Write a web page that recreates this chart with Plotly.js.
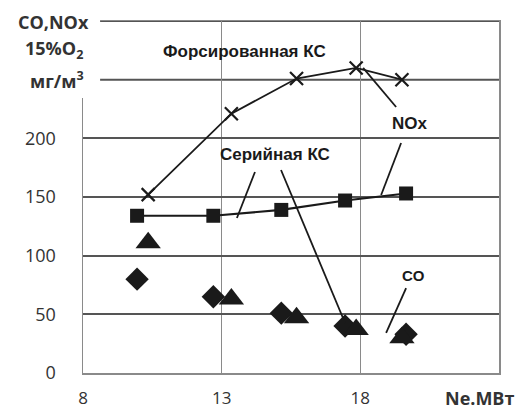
<!DOCTYPE html>
<html>
<head>
<meta charset="utf-8">
<script src="https://cdn.plot.ly/plotly-3.0.1.min.js"></script>
<style>html,body{margin:0;padding:0;background:#fff}#chart{width:526px;height:412px}</style>
</head>
<body>
<div id="chart"></div>
<script>
// Data
const xSerial = [9.95, 12.7, 15.15, 17.45, 19.65];
const noxSerial = [134, 134, 139, 147, 153];
const coSerial = [80, 65, 51, 40, 33];
const xForced = [10.35, 13.35, 15.7, 17.85, 19.5];
const noxForced = [152, 221, 251, 260, 250];
const coForced = [111, 63, 47, 37, 30];
const xTickVals = [8, 13, 18];
const xTickText = ['8', '13', '18'];
const yTickVals = [0, 50, 100, 150, 200];
const yTickText = ['0', '50', '100', '150', '200'];
const yUpperGrid = [250, 300];

const ink = '#1a1a1a';
const traces = [
  {x: xForced, y: noxForced, mode: 'lines+markers', name: 'NOx форсированная',
   line: {color: ink, width: 1.8},
   marker: {symbol: 'x-thin', size: 13, line: {color: ink, width: 2.2}, color: ink}},
  {x: xSerial, y: noxSerial, mode: 'lines+markers', name: 'NOx серийная',
   line: {color: ink, width: 2.2},
   marker: {symbol: 'square', size: 14, color: ink}},
  {x: xSerial, y: coSerial, mode: 'markers', name: 'CO серийная',
   marker: {symbol: 'diamond', size: 18, color: ink}},
  {x: xForced, y: coForced, mode: 'markers', name: 'CO форсированная',
   marker: {symbol: 'triangle-up', size: 22, color: ink}}
];

const lineShape = (x0, y0, x1, y1) => ({type: 'line', xref: 'x', yref: 'y', x0, y0, x1, y1,
  line: {color: ink, width: 1.8}});

const boldFont = {family: 'Liberation Sans, Arial, sans-serif', size: 17, color: ink, weight: 'bold'};
const labelFont = {family: 'Open Sans, sans-serif', size: 18, color: '#333', weight: 'bold'};
const tickFont = {family: 'Open Sans, sans-serif', size: 18, color: '#333'};

const ann = (x, y, text) => ({xref: 'paper', yref: 'paper', x, y, text, showarrow: false,
  xanchor: 'center', yanchor: 'middle', font: labelFont});
const dAnn = (x, y, text, size) => ({xref: 'x', yref: 'y', x, y, text, showarrow: false,
  xanchor: 'center', yanchor: 'middle', font: Object.assign({}, boldFont, size ? {size} : {})});

const shapes = [
  {type: 'rect', xref: 'paper', yref: 'paper', x0: -0.25, x1: 0.041, y0: 0.781, y1: 1.07,
   fillcolor: '#fff', line: {width: 0}, layer: 'above'}
];
yUpperGrid.forEach(v => shapes.push({type: 'line', xref: 'paper', yref: 'y', x0: 0.041, x1: 1,
  y0: v, y1: v, line: {color: '#555', width: 2}, layer: 'below'}));
shapes.push(
  lineShape(14.20, 171.3, 13.55, 132.1),
  lineShape(15.14, 173.0, 17.45, 42.6),
  lineShape(19.29, 226.7, 18.10, 260),
  lineShape(19.47, 196.0, 18.75, 151.7),
  lineShape(19.65, 72.4, 18.93, 34.1)
);

const layout = {
  width: 526, height: 412,
  margin: {l: 83, r: 27, t: 21, b: 39},
  paper_bgcolor: '#fff', plot_bgcolor: '#fff',
  showlegend: false,
  xaxis: {range: [8, 23], tickvals: xTickVals, ticktext: xTickText,
    showgrid: true, gridcolor: '#8a8a8a', gridwidth: 1.5,
    showline: true, linecolor: '#8a8a8a', linewidth: 1.5, mirror: true,
    zeroline: false, ticks: '', ticklabelstandoff: 9,
    tickfont: {family: 'Open Sans, sans-serif', size: 17, color: '#333'}},
  yaxis: {range: [0, 300], tickvals: yTickVals, ticktext: yTickText,
    showgrid: true, gridcolor: '#555', gridwidth: 2,
    showline: true, linecolor: '#8a8a8a', linewidth: 1.5, mirror: true,
    zeroline: false, ticks: '', ticklabelstandoff: 22,
    tickfont: tickFont},
  shapes: shapes,
  annotations: [
    ann(-0.072, 0.997, 'CO,NOx'),
    ann(-0.070, 0.918, '15%O<sub>2</sub>'),
    ann(-0.063, 0.832, 'мг/м<sup>3</sup>'),
    ann(0.954, -0.07, 'Ne.МВт'),
    dAnn(13.84, 273.6, 'Форсированная КС'),
    dAnn(14.92, 185.8, 'Серийная КС'),
    dAnn(19.79, 213, 'NOx'),
    dAnn(19.9, 82.7, 'CO', 15)
  ]
};

Plotly.newPlot('chart', traces, layout, {displayModeBar: false, staticPlot: true});
</script>
</body>
</html>
